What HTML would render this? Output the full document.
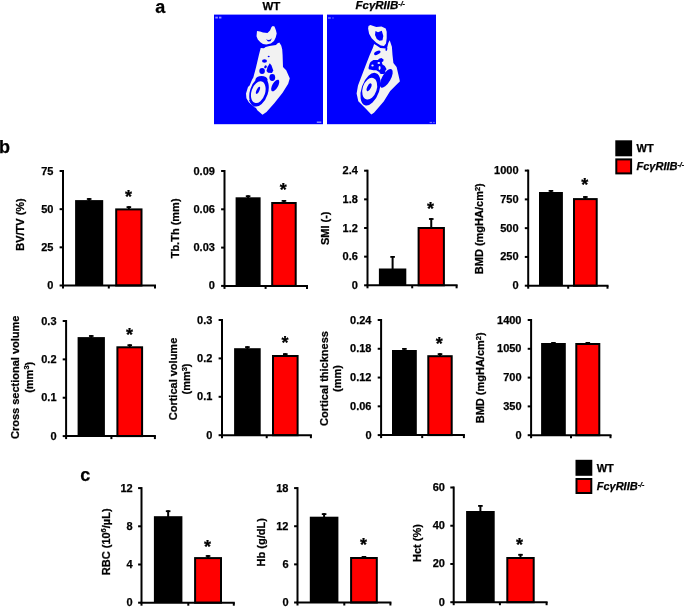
<!DOCTYPE html>
<html><head><meta charset="utf-8"><style>
html,body{margin:0;padding:0;background:#fff;}
body{width:685px;height:615px;overflow:hidden;}
svg{display:block;will-change:transform;}
text{font-family:"Liberation Sans", sans-serif;font-weight:bold;fill:#000;stroke:#000;stroke-width:0.25px;}
.t{font-size:11px;}
.l{font-size:11px;}
.s{font-size:18px;}
.p{font-size:18px;}
.g{font-size:11px;}
.gi{font-size:11px;font-style:italic;}
.h{font-size:11.5px;}
</style></head><body>
<svg width="685" height="615" viewBox="0 0 685 615">
<rect width="685" height="615" fill="#fff"/>
<text x="155.2" y="13" class="p">a</text>
<text x="-1" y="153" class="p">b</text>
<text x="80.3" y="480.8" class="p">c</text>
<text x="271.4" y="9.7" text-anchor="middle" class="h">WT</text>
<text x="355.5" y="8.9" class="h" style="font-style:italic">FcγRIIB<tspan dy="-3.2" font-size="7">-/-</tspan></text>
<rect x="214" y="14.6" width="109" height="109.6" fill="#0000FF"/>
<rect x="327" y="14.6" width="109" height="109.6" fill="#0000FF"/>
<path d="M257,31.1 L260,31.5 L263,32.4 L267.5,33 L270,30.5 L271.5,27 L272.8,26.1 L274.5,26.6 L276,30.5 L276.7,33.4 L275.7,37.6 L274,40.9 L270.8,43.5 L266.3,44.4 L263,44.1 L260.4,42.2 L257.8,39.6 L256.5,36.3 Z" fill="#F2F2F2"/>
<path d="M266,39.3 L268,41.4 L270.5,41.2 L271.9,38.3 L270,39.7 L268,39.9 Z" fill="#0000FF"/>
<path d="M260.7,48 L264,48.2 L265.6,47 L269.5,46 L276,45.1 L277.3,43.5 L279.3,42.5 L281.2,45.4 L282.2,49.3 L282.6,55 L283,67 L286.2,70.3 L289.4,77.5 L289.8,78.2 L288.2,83.8 L282.6,92.7 L274.5,103 L266.5,112 L262.5,114.8 L257.3,110.3 L256,108 L254,107.1 L248.8,102.3 L246.4,98.3 L246,93.5 L248,87 L249.6,85.5 L252,79.8 L253.3,77.5 L256.1,67 L258.9,55 Z" fill="#F2F2F2"/>
<ellipse cx="264.5" cy="61" rx="2.5" ry="1.8" transform="rotate(0 264.5 61)" fill="#0000FF"/>
<ellipse cx="262.1" cy="70.9" rx="2.8" ry="3" transform="rotate(0 262.1 70.9)" fill="#0000FF"/>
<path d="M269.8,63.3 L271.5,65.5 L273.3,70.5 L272,72.9 L268,72.8 L266.5,71 L267.5,67 Z" fill="#0000FF"/>
<ellipse cx="268.7" cy="56.5" rx="1" ry="0.7" transform="rotate(0 268.7 56.5)" fill="#0000FF"/>
<ellipse cx="265.5" cy="66.8" rx="1.2" ry="1.6" transform="rotate(30 265.5 66.8)" fill="#0000FF"/>
<ellipse cx="272.3" cy="77.5" rx="2.9" ry="3.4" transform="rotate(0 272.3 77.5)" fill="#0000FF"/>
<ellipse cx="275.2" cy="85.5" rx="2.8" ry="6.5" transform="rotate(30 275.2 85.5)" fill="#0000FF"/>
<ellipse cx="261.5" cy="79.5" rx="6" ry="3.6" transform="rotate(0 261.5 79.5)" fill="#0000FF"/>
<ellipse cx="259" cy="91.8" rx="9" ry="15.2" transform="rotate(18 259 91.8)" fill="#0000FF"/>
<ellipse cx="258.3" cy="92.2" rx="6.8" ry="11.2" transform="rotate(18 258.3 92.2)" fill="#F2F2F2"/>
<ellipse cx="258" cy="90.3" rx="1.4" ry="3.9" transform="rotate(25 258 90.3)" fill="#0000FF"/>
<path d="M249.4,100.2 Q251.5,104.5 254.5,107.2" stroke="#0000FF" stroke-width="1" fill="none"/>
<path d="M368.5,25.9 L370.4,24.9 L376.3,26.9 L381.5,26.6 L385.7,28.5 L386.7,31.8 L386.7,38.3 L386,43.5 L384,46.1 L380.8,45.4 L376.3,42.8 L371.7,38.3 L369.1,33.7 L368.1,28.5 Z" fill="#F2F2F2"/>
<path d="M375.5,31 L378,32.2 L381.8,30.8 L383.3,36 L382.5,40.3 L379.5,40.8 L376.8,39 L375,35 Z" fill="#0000FF"/>
<path d="M374.1,44.1 L376.2,45.2 L380.3,47.9 L383.5,48.3 L385.5,48.6 L387.3,47 L388.3,43 L389.7,40.2 L391.9,46.7 L392.5,55 L393.4,63 L396.6,67 L399.8,80.7 L399.8,81.4 L398.2,83.1 L390.2,91 L383.7,101.5 L374,112.8 L371.3,114.4 L365.6,108.6 L358.3,101.3 L356.6,93.5 L358,85.4 L362,75 L366,64.6 L369.7,55 L373,47.4 Z" fill="#F2F2F2"/>
<ellipse cx="377.3" cy="52.8" rx="3.5" ry="1.7" transform="rotate(-28 377.3 52.8)" fill="#0000FF"/>
<ellipse cx="386.4" cy="49" rx="0.9" ry="2" transform="rotate(10 386.4 49)" fill="#0000FF"/>
<path d="M368.5,67.8 L369.5,64 L370.5,62.1 L373.4,60.1 L377.9,60.1 L379.1,58.7 L381.4,58.1 L383.6,59.5 L383.3,61.2 L381.8,62.3 L382.5,64.4 L384.8,66.1 L386.5,68.9 L385.9,70.5 L380.8,70.5 L379.1,72 L376.2,70.3 L373.4,70.3 L368.8,69.2 Z" fill="#0000FF"/>
<ellipse cx="372.5" cy="65.5" rx="1.2" ry="0.9" transform="rotate(0 372.5 65.5)" fill="#F2F2F2"/>
<ellipse cx="378.8" cy="63" rx="1.3" ry="0.9" transform="rotate(0 378.8 63)" fill="#F2F2F2"/>
<ellipse cx="379.6" cy="68" rx="1" ry="1.9" transform="rotate(0 379.6 68)" fill="#F2F2F2"/>
<ellipse cx="386.3" cy="78.3" rx="4.3" ry="10.5" transform="rotate(30 386.3 78.3)" fill="#0000FF"/>
<ellipse cx="382.3" cy="71.5" rx="3" ry="2.6" transform="rotate(0 382.3 71.5)" fill="#0000FF"/>
<ellipse cx="370.5" cy="89.2" rx="8.9" ry="17" transform="rotate(19 370.5 89.2)" fill="#0000FF"/>
<ellipse cx="369.7" cy="88.7" rx="7" ry="11.2" transform="rotate(18 369.7 88.7)" fill="#F2F2F2"/>
<ellipse cx="369.1" cy="87.3" rx="1.8" ry="4.3" transform="rotate(25 369.1 87.3)" fill="#0000FF"/>
<rect x="215.3" y="16.7" width="2.6" height="1.8" fill="#9090ff"/><rect x="219" y="16.7" width="2.4" height="1.8" fill="#9090ff"/>
<rect x="316.8" y="121.5" width="4.5" height="1.4" fill="#9090ff"/>
<rect x="328" y="17" width="2.8" height="2" fill="#5858ff"/><rect x="332" y="17.1" width="2" height="1.8" fill="#3030ff"/>
<rect x="429.6" y="121.9" width="2.5" height="1.2" fill="#7070ff"/><rect x="433" y="121.9" width="1.9" height="1.2" fill="#5050ff"/>
<line x1="89.15" y1="201.1" x2="89.15" y2="198.1" stroke="#000" stroke-width="2"/>
<line x1="86.85" y1="199" x2="91.45" y2="199" stroke="#000" stroke-width="1.8"/>
<line x1="128.85" y1="209.4" x2="128.85" y2="206.2" stroke="#000" stroke-width="2"/>
<line x1="126.55" y1="207.1" x2="131.15" y2="207.1" stroke="#000" stroke-width="1.8"/>
<rect x="75.1" y="200.1" width="28.1" height="85.4" fill="#000"/>
<rect x="116.2" y="209.4" width="25.3" height="76.1" fill="#FF0000" stroke="#000" stroke-width="2"/>
<line x1="63" y1="170" x2="63" y2="288.5" stroke="#000" stroke-width="2"/>
<line x1="62" y1="285.5" x2="156" y2="285.5" stroke="#000" stroke-width="2"/>
<line x1="108.8" y1="285.5" x2="108.8" y2="288.5" stroke="#000" stroke-width="2"/>
<line x1="155" y1="285.5" x2="155" y2="288.5" stroke="#000" stroke-width="2"/>
<line x1="59.6" y1="285.5" x2="63" y2="285.5" stroke="#000" stroke-width="2"/>
<text x="53.4" y="289" text-anchor="end" class="t">0</text>
<line x1="59.6" y1="247.33" x2="63" y2="247.33" stroke="#000" stroke-width="2"/>
<text x="53.4" y="250.83" text-anchor="end" class="t">25</text>
<line x1="59.6" y1="209.17" x2="63" y2="209.17" stroke="#000" stroke-width="2"/>
<text x="53.4" y="212.67" text-anchor="end" class="t">50</text>
<line x1="59.6" y1="171" x2="63" y2="171" stroke="#000" stroke-width="2"/>
<text x="53.4" y="174.5" text-anchor="end" class="t">75</text>
<text x="128.4" y="202.9" text-anchor="middle" class="s">*</text>
<text transform="translate(23.5,224.5) rotate(-90)" text-anchor="middle" class="l">BV/TV (%)</text>
<line x1="248.1" y1="198.3" x2="248.1" y2="195.3" stroke="#000" stroke-width="2"/>
<line x1="245.8" y1="196.2" x2="250.4" y2="196.2" stroke="#000" stroke-width="1.8"/>
<line x1="283.95" y1="203" x2="283.95" y2="200" stroke="#000" stroke-width="2"/>
<line x1="281.65" y1="200.9" x2="286.25" y2="200.9" stroke="#000" stroke-width="1.8"/>
<rect x="235.6" y="197.3" width="25" height="88.6" fill="#000"/>
<rect x="272.2" y="203" width="23.5" height="82.9" fill="#FF0000" stroke="#000" stroke-width="2"/>
<line x1="224.5" y1="170" x2="224.5" y2="288.9" stroke="#000" stroke-width="2"/>
<line x1="223.5" y1="285.9" x2="308" y2="285.9" stroke="#000" stroke-width="2"/>
<line x1="265.6" y1="285.9" x2="265.6" y2="288.9" stroke="#000" stroke-width="2"/>
<line x1="307" y1="285.9" x2="307" y2="288.9" stroke="#000" stroke-width="2"/>
<line x1="221.1" y1="285.9" x2="224.5" y2="285.9" stroke="#000" stroke-width="2"/>
<text x="214.9" y="289.4" text-anchor="end" class="t">0</text>
<line x1="221.1" y1="247.6" x2="224.5" y2="247.6" stroke="#000" stroke-width="2"/>
<text x="214.9" y="251.1" text-anchor="end" class="t">0.03</text>
<line x1="221.1" y1="209.3" x2="224.5" y2="209.3" stroke="#000" stroke-width="2"/>
<text x="214.9" y="212.8" text-anchor="end" class="t">0.06</text>
<line x1="221.1" y1="171" x2="224.5" y2="171" stroke="#000" stroke-width="2"/>
<text x="214.9" y="174.5" text-anchor="end" class="t">0.09</text>
<text x="283.2" y="195.9" text-anchor="middle" class="s">*</text>
<text transform="translate(179.1,228.4) rotate(-90)" text-anchor="middle" class="l">Tb.Th (mm)</text>
<line x1="392.6" y1="269.5" x2="392.6" y2="256" stroke="#000" stroke-width="2"/>
<line x1="390.3" y1="256.9" x2="394.9" y2="256.9" stroke="#000" stroke-width="1.8"/>
<line x1="431.25" y1="228" x2="431.25" y2="218.1" stroke="#000" stroke-width="2"/>
<line x1="428.95" y1="219" x2="433.55" y2="219" stroke="#000" stroke-width="1.8"/>
<rect x="378.9" y="268.5" width="27.4" height="16.8" fill="#000"/>
<rect x="418.6" y="228" width="25.3" height="57.3" fill="#FF0000" stroke="#000" stroke-width="2"/>
<line x1="367.5" y1="169.7" x2="367.5" y2="288.3" stroke="#000" stroke-width="2"/>
<line x1="366.5" y1="285.3" x2="457.6" y2="285.3" stroke="#000" stroke-width="2"/>
<line x1="412.2" y1="285.3" x2="412.2" y2="288.3" stroke="#000" stroke-width="2"/>
<line x1="456.6" y1="285.3" x2="456.6" y2="288.3" stroke="#000" stroke-width="2"/>
<line x1="364.1" y1="285.3" x2="367.5" y2="285.3" stroke="#000" stroke-width="2"/>
<text x="357.9" y="288.8" text-anchor="end" class="t">0</text>
<line x1="364.1" y1="256.65" x2="367.5" y2="256.65" stroke="#000" stroke-width="2"/>
<text x="357.9" y="260.15" text-anchor="end" class="t">0.6</text>
<line x1="364.1" y1="228" x2="367.5" y2="228" stroke="#000" stroke-width="2"/>
<text x="357.9" y="231.5" text-anchor="end" class="t">1.2</text>
<line x1="364.1" y1="199.35" x2="367.5" y2="199.35" stroke="#000" stroke-width="2"/>
<text x="357.9" y="202.85" text-anchor="end" class="t">1.8</text>
<line x1="364.1" y1="170.7" x2="367.5" y2="170.7" stroke="#000" stroke-width="2"/>
<text x="357.9" y="174.2" text-anchor="end" class="t">2.4</text>
<text x="430.5" y="214.6" text-anchor="middle" class="s">*</text>
<text transform="translate(329.3,228.3) rotate(-90)" text-anchor="middle" class="l">SMI (-)</text>
<line x1="550.95" y1="193" x2="550.95" y2="190" stroke="#000" stroke-width="2"/>
<line x1="548.65" y1="190.9" x2="553.25" y2="190.9" stroke="#000" stroke-width="1.8"/>
<line x1="585.35" y1="199.1" x2="585.35" y2="196.1" stroke="#000" stroke-width="2"/>
<line x1="583.05" y1="197" x2="587.65" y2="197" stroke="#000" stroke-width="1.8"/>
<rect x="539" y="192" width="23.9" height="93.7" fill="#000"/>
<rect x="574" y="199.1" width="22.7" height="86.6" fill="#FF0000" stroke="#000" stroke-width="2"/>
<line x1="528.2" y1="169.6" x2="528.2" y2="288.7" stroke="#000" stroke-width="2"/>
<line x1="527.2" y1="285.7" x2="608.5" y2="285.7" stroke="#000" stroke-width="2"/>
<line x1="568.2" y1="285.7" x2="568.2" y2="288.7" stroke="#000" stroke-width="2"/>
<line x1="607.5" y1="285.7" x2="607.5" y2="288.7" stroke="#000" stroke-width="2"/>
<line x1="524.8" y1="285.7" x2="528.2" y2="285.7" stroke="#000" stroke-width="2"/>
<text x="518.6" y="289.2" text-anchor="end" class="t">0</text>
<line x1="524.8" y1="256.93" x2="528.2" y2="256.93" stroke="#000" stroke-width="2"/>
<text x="518.6" y="260.43" text-anchor="end" class="t">250</text>
<line x1="524.8" y1="228.15" x2="528.2" y2="228.15" stroke="#000" stroke-width="2"/>
<text x="518.6" y="231.65" text-anchor="end" class="t">500</text>
<line x1="524.8" y1="199.38" x2="528.2" y2="199.38" stroke="#000" stroke-width="2"/>
<text x="518.6" y="202.88" text-anchor="end" class="t">750</text>
<line x1="524.8" y1="170.6" x2="528.2" y2="170.6" stroke="#000" stroke-width="2"/>
<text x="518.6" y="174.1" text-anchor="end" class="t">1000</text>
<text x="584.8" y="191.4" text-anchor="middle" class="s">*</text>
<text transform="translate(483.1,228.7) rotate(-90)" text-anchor="middle" class="l">BMD (mgHA/cm<tspan font-size="7.5" dy="-3.6">2</tspan><tspan dy="3.6">)</tspan></text>
<line x1="91.25" y1="338.1" x2="91.25" y2="335.1" stroke="#000" stroke-width="2"/>
<line x1="88.95" y1="336" x2="93.55" y2="336" stroke="#000" stroke-width="1.8"/>
<line x1="129.75" y1="347.3" x2="129.75" y2="344.3" stroke="#000" stroke-width="2"/>
<line x1="127.45" y1="345.2" x2="132.05" y2="345.2" stroke="#000" stroke-width="1.8"/>
<rect x="77.6" y="337.1" width="27.3" height="99" fill="#000"/>
<rect x="117.4" y="347.3" width="24.7" height="88.8" fill="#FF0000" stroke="#000" stroke-width="2"/>
<line x1="66.1" y1="320" x2="66.1" y2="439.1" stroke="#000" stroke-width="2"/>
<line x1="65.1" y1="436.1" x2="155.9" y2="436.1" stroke="#000" stroke-width="2"/>
<line x1="111.4" y1="436.1" x2="111.4" y2="439.1" stroke="#000" stroke-width="2"/>
<line x1="154.9" y1="436.1" x2="154.9" y2="439.1" stroke="#000" stroke-width="2"/>
<line x1="62.7" y1="436.1" x2="66.1" y2="436.1" stroke="#000" stroke-width="2"/>
<text x="56.5" y="439.6" text-anchor="end" class="t">0</text>
<line x1="62.7" y1="397.73" x2="66.1" y2="397.73" stroke="#000" stroke-width="2"/>
<text x="56.5" y="401.23" text-anchor="end" class="t">0.1</text>
<line x1="62.7" y1="359.37" x2="66.1" y2="359.37" stroke="#000" stroke-width="2"/>
<text x="56.5" y="362.87" text-anchor="end" class="t">0.2</text>
<line x1="62.7" y1="321" x2="66.1" y2="321" stroke="#000" stroke-width="2"/>
<text x="56.5" y="324.5" text-anchor="end" class="t">0.3</text>
<text x="129.6" y="340.5" text-anchor="middle" class="s">*</text>
<text transform="translate(19.4,377.3) rotate(-90)" text-anchor="middle" class="l">Cross sectional volume</text>
<text transform="translate(32.8,377.3) rotate(-90)" text-anchor="middle" class="l">(mm<tspan font-size="7.5" dy="-3.6">3</tspan><tspan dy="3.6">)</tspan></text>
<line x1="247.4" y1="349.2" x2="247.4" y2="346.2" stroke="#000" stroke-width="2"/>
<line x1="245.1" y1="347.1" x2="249.7" y2="347.1" stroke="#000" stroke-width="1.8"/>
<line x1="285.3" y1="356" x2="285.3" y2="353.2" stroke="#000" stroke-width="2"/>
<line x1="283" y1="354.1" x2="287.6" y2="354.1" stroke="#000" stroke-width="1.8"/>
<rect x="234.1" y="348.2" width="26.6" height="87" fill="#000"/>
<rect x="273" y="356" width="24.6" height="79.2" fill="#FF0000" stroke="#000" stroke-width="2"/>
<line x1="222" y1="319" x2="222" y2="438.2" stroke="#000" stroke-width="2"/>
<line x1="221" y1="435.2" x2="311.9" y2="435.2" stroke="#000" stroke-width="2"/>
<line x1="266.7" y1="435.2" x2="266.7" y2="438.2" stroke="#000" stroke-width="2"/>
<line x1="310.9" y1="435.2" x2="310.9" y2="438.2" stroke="#000" stroke-width="2"/>
<line x1="218.6" y1="435.2" x2="222" y2="435.2" stroke="#000" stroke-width="2"/>
<text x="212.4" y="438.7" text-anchor="end" class="t">0</text>
<line x1="218.6" y1="396.8" x2="222" y2="396.8" stroke="#000" stroke-width="2"/>
<text x="212.4" y="400.3" text-anchor="end" class="t">0.1</text>
<line x1="218.6" y1="358.4" x2="222" y2="358.4" stroke="#000" stroke-width="2"/>
<text x="212.4" y="361.9" text-anchor="end" class="t">0.2</text>
<line x1="218.6" y1="320" x2="222" y2="320" stroke="#000" stroke-width="2"/>
<text x="212.4" y="323.5" text-anchor="end" class="t">0.3</text>
<text x="284.9" y="349" text-anchor="middle" class="s">*</text>
<text transform="translate(176.7,379) rotate(-90)" text-anchor="middle" class="l">Cortical volume</text>
<text transform="translate(190.4,379) rotate(-90)" text-anchor="middle" class="l">(mm<tspan font-size="7.5" dy="-3.6">3</tspan><tspan dy="3.6">)</tspan></text>
<line x1="404.4" y1="351" x2="404.4" y2="348" stroke="#000" stroke-width="2"/>
<line x1="402.1" y1="348.9" x2="406.7" y2="348.9" stroke="#000" stroke-width="1.8"/>
<line x1="440" y1="356.2" x2="440" y2="353.2" stroke="#000" stroke-width="2"/>
<line x1="437.7" y1="354.1" x2="442.3" y2="354.1" stroke="#000" stroke-width="1.8"/>
<rect x="392" y="350" width="24.8" height="85.1" fill="#000"/>
<rect x="428.3" y="356.2" width="23.4" height="78.9" fill="#FF0000" stroke="#000" stroke-width="2"/>
<line x1="381.1" y1="319" x2="381.1" y2="438.1" stroke="#000" stroke-width="2"/>
<line x1="380.1" y1="435.1" x2="464.9" y2="435.1" stroke="#000" stroke-width="2"/>
<line x1="422.2" y1="435.1" x2="422.2" y2="438.1" stroke="#000" stroke-width="2"/>
<line x1="463.9" y1="435.1" x2="463.9" y2="438.1" stroke="#000" stroke-width="2"/>
<line x1="377.7" y1="435.1" x2="381.1" y2="435.1" stroke="#000" stroke-width="2"/>
<text x="371.5" y="438.6" text-anchor="end" class="t">0</text>
<line x1="377.7" y1="406.33" x2="381.1" y2="406.33" stroke="#000" stroke-width="2"/>
<text x="371.5" y="409.83" text-anchor="end" class="t">0.06</text>
<line x1="377.7" y1="377.55" x2="381.1" y2="377.55" stroke="#000" stroke-width="2"/>
<text x="371.5" y="381.05" text-anchor="end" class="t">0.12</text>
<line x1="377.7" y1="348.77" x2="381.1" y2="348.77" stroke="#000" stroke-width="2"/>
<text x="371.5" y="352.27" text-anchor="end" class="t">0.18</text>
<line x1="377.7" y1="320" x2="381.1" y2="320" stroke="#000" stroke-width="2"/>
<text x="371.5" y="323.5" text-anchor="end" class="t">0.24</text>
<text x="439.2" y="349.5" text-anchor="middle" class="s">*</text>
<text transform="translate(328.2,378.5) rotate(-90)" text-anchor="middle" class="l">Cortical thickness</text>
<text transform="translate(341.1,378.5) rotate(-90)" text-anchor="middle" class="l">(mm)</text>
<line x1="553.45" y1="344" x2="553.45" y2="342" stroke="#000" stroke-width="2"/>
<line x1="551.15" y1="342.9" x2="555.75" y2="342.9" stroke="#000" stroke-width="1.8"/>
<line x1="587.8" y1="344" x2="587.8" y2="342" stroke="#000" stroke-width="2"/>
<line x1="585.5" y1="342.9" x2="590.1" y2="342.9" stroke="#000" stroke-width="1.8"/>
<rect x="541.1" y="343" width="24.7" height="92.2" fill="#000"/>
<rect x="576.3" y="344" width="23" height="91.2" fill="#FF0000" stroke="#000" stroke-width="2"/>
<line x1="531.1" y1="319" x2="531.1" y2="438.2" stroke="#000" stroke-width="2"/>
<line x1="530.1" y1="435.2" x2="611.5" y2="435.2" stroke="#000" stroke-width="2"/>
<line x1="571" y1="435.2" x2="571" y2="438.2" stroke="#000" stroke-width="2"/>
<line x1="610.5" y1="435.2" x2="610.5" y2="438.2" stroke="#000" stroke-width="2"/>
<line x1="527.7" y1="435.2" x2="531.1" y2="435.2" stroke="#000" stroke-width="2"/>
<text x="521.5" y="438.7" text-anchor="end" class="t">0</text>
<line x1="527.7" y1="406.4" x2="531.1" y2="406.4" stroke="#000" stroke-width="2"/>
<text x="521.5" y="409.9" text-anchor="end" class="t">350</text>
<line x1="527.7" y1="377.6" x2="531.1" y2="377.6" stroke="#000" stroke-width="2"/>
<text x="521.5" y="381.1" text-anchor="end" class="t">700</text>
<line x1="527.7" y1="348.8" x2="531.1" y2="348.8" stroke="#000" stroke-width="2"/>
<text x="521.5" y="352.3" text-anchor="end" class="t">1050</text>
<line x1="527.7" y1="320" x2="531.1" y2="320" stroke="#000" stroke-width="2"/>
<text x="521.5" y="323.5" text-anchor="end" class="t">1400</text>
<text transform="translate(484.2,377.8) rotate(-90)" text-anchor="middle" class="l">BMD (mgHA/cm<tspan font-size="7.5" dy="-3.6">2</tspan><tspan dy="3.6">)</tspan></text>
<line x1="168.15" y1="517.2" x2="168.15" y2="510.3" stroke="#000" stroke-width="2"/>
<line x1="165.85" y1="511.2" x2="170.45" y2="511.2" stroke="#000" stroke-width="1.8"/>
<line x1="208.05" y1="558.1" x2="208.05" y2="555.1" stroke="#000" stroke-width="2"/>
<line x1="205.75" y1="556" x2="210.35" y2="556" stroke="#000" stroke-width="1.8"/>
<rect x="153.9" y="516.2" width="28.5" height="86.5" fill="#000"/>
<rect x="195.1" y="558.1" width="25.9" height="44.6" fill="#FF0000" stroke="#000" stroke-width="2"/>
<line x1="141.5" y1="487.1" x2="141.5" y2="605.7" stroke="#000" stroke-width="2"/>
<line x1="140.5" y1="602.7" x2="234.8" y2="602.7" stroke="#000" stroke-width="2"/>
<line x1="188.3" y1="602.7" x2="188.3" y2="605.7" stroke="#000" stroke-width="2"/>
<line x1="233.8" y1="602.7" x2="233.8" y2="605.7" stroke="#000" stroke-width="2"/>
<line x1="138.1" y1="602.7" x2="141.5" y2="602.7" stroke="#000" stroke-width="2"/>
<text x="132.7" y="606.2" text-anchor="end" class="t">0</text>
<line x1="138.1" y1="564.5" x2="141.5" y2="564.5" stroke="#000" stroke-width="2"/>
<text x="132.7" y="568" text-anchor="end" class="t">4</text>
<line x1="138.1" y1="526.3" x2="141.5" y2="526.3" stroke="#000" stroke-width="2"/>
<text x="132.7" y="529.8" text-anchor="end" class="t">8</text>
<line x1="138.1" y1="488.1" x2="141.5" y2="488.1" stroke="#000" stroke-width="2"/>
<text x="132.7" y="491.6" text-anchor="end" class="t">12</text>
<text x="207.5" y="552.7" text-anchor="middle" class="s">*</text>
<text transform="translate(109.6,541.8) rotate(-90)" text-anchor="middle" class="l">RBC (10<tspan font-size="7.5" dy="-3.6">6</tspan><tspan dy="3.6">/µL)</tspan></text>
<line x1="324.1" y1="517.7" x2="324.1" y2="513.2" stroke="#000" stroke-width="2"/>
<line x1="321.8" y1="514.1" x2="326.4" y2="514.1" stroke="#000" stroke-width="1.8"/>
<line x1="363.95" y1="558" x2="363.95" y2="556" stroke="#000" stroke-width="2"/>
<line x1="361.65" y1="556.9" x2="366.25" y2="556.9" stroke="#000" stroke-width="1.8"/>
<rect x="309.8" y="516.7" width="28.6" height="85.8" fill="#000"/>
<rect x="351.1" y="558" width="25.7" height="44.5" fill="#FF0000" stroke="#000" stroke-width="2"/>
<line x1="297.5" y1="487.1" x2="297.5" y2="605.5" stroke="#000" stroke-width="2"/>
<line x1="296.5" y1="602.5" x2="391.4" y2="602.5" stroke="#000" stroke-width="2"/>
<line x1="344.3" y1="602.5" x2="344.3" y2="605.5" stroke="#000" stroke-width="2"/>
<line x1="390.4" y1="602.5" x2="390.4" y2="605.5" stroke="#000" stroke-width="2"/>
<line x1="294.1" y1="602.5" x2="297.5" y2="602.5" stroke="#000" stroke-width="2"/>
<text x="288.5" y="606" text-anchor="end" class="t">0</text>
<line x1="294.1" y1="564.37" x2="297.5" y2="564.37" stroke="#000" stroke-width="2"/>
<text x="288.5" y="567.87" text-anchor="end" class="t">6</text>
<line x1="294.1" y1="526.23" x2="297.5" y2="526.23" stroke="#000" stroke-width="2"/>
<text x="288.5" y="529.73" text-anchor="end" class="t">12</text>
<line x1="294.1" y1="488.1" x2="297.5" y2="488.1" stroke="#000" stroke-width="2"/>
<text x="288.5" y="491.6" text-anchor="end" class="t">18</text>
<text x="363.6" y="550.9" text-anchor="middle" class="s">*</text>
<text transform="translate(264.5,542.3) rotate(-90)" text-anchor="middle" class="l">Hb (g/dL)</text>
<line x1="480.4" y1="512" x2="480.4" y2="505" stroke="#000" stroke-width="2"/>
<line x1="478.1" y1="505.9" x2="482.7" y2="505.9" stroke="#000" stroke-width="1.8"/>
<line x1="520.5" y1="558" x2="520.5" y2="553.9" stroke="#000" stroke-width="2"/>
<line x1="518.2" y1="554.8" x2="522.8" y2="554.8" stroke="#000" stroke-width="1.8"/>
<rect x="466.1" y="511" width="28.6" height="91.2" fill="#000"/>
<rect x="507.3" y="558" width="26.4" height="44.2" fill="#FF0000" stroke="#000" stroke-width="2"/>
<line x1="453.7" y1="486.5" x2="453.7" y2="605.2" stroke="#000" stroke-width="2"/>
<line x1="452.7" y1="602.2" x2="547.6" y2="602.2" stroke="#000" stroke-width="2"/>
<line x1="499.9" y1="602.2" x2="499.9" y2="605.2" stroke="#000" stroke-width="2"/>
<line x1="546.6" y1="602.2" x2="546.6" y2="605.2" stroke="#000" stroke-width="2"/>
<line x1="450.3" y1="602.2" x2="453.7" y2="602.2" stroke="#000" stroke-width="2"/>
<text x="444.9" y="605.7" text-anchor="end" class="t">0</text>
<line x1="450.3" y1="563.97" x2="453.7" y2="563.97" stroke="#000" stroke-width="2"/>
<text x="444.9" y="567.47" text-anchor="end" class="t">20</text>
<line x1="450.3" y1="525.73" x2="453.7" y2="525.73" stroke="#000" stroke-width="2"/>
<text x="444.9" y="529.23" text-anchor="end" class="t">40</text>
<line x1="450.3" y1="487.5" x2="453.7" y2="487.5" stroke="#000" stroke-width="2"/>
<text x="444.9" y="491" text-anchor="end" class="t">60</text>
<text x="519.5" y="551.1" text-anchor="middle" class="s">*</text>
<text transform="translate(421.4,543) rotate(-90)" text-anchor="middle" class="l">Hct (%)</text>
<rect x="615.3" y="140.3" width="16.8" height="16" fill="#000"/>
<rect x="616.3" y="159.4" width="14.8" height="14" fill="#FF0000" stroke="#000" stroke-width="2"/>
<text x="636.5" y="152.1" class="g">WT</text>
<text x="636.5" y="170.2" class="gi">FcγRIIB<tspan dy="-3.2" font-size="7">-/-</tspan></text>
<rect x="575.5" y="459.8" width="16.8" height="16" fill="#000"/>
<rect x="576.5" y="479" width="14.8" height="14" fill="#FF0000" stroke="#000" stroke-width="2"/>
<text x="596.7" y="471.6" class="g">WT</text>
<text x="596.7" y="489.8" class="gi">FcγRIIB<tspan dy="-3.2" font-size="7">-/-</tspan></text>
</svg>
</body></html>
